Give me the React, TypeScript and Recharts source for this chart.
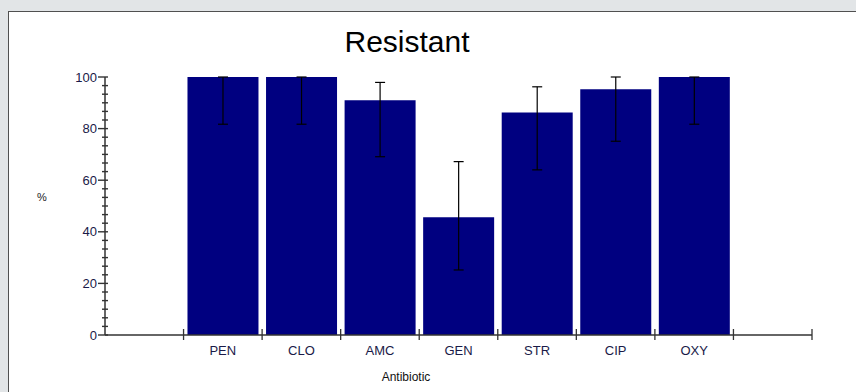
import React from 'react';
import { BarChart, Bar, XAxis, YAxis, ErrorBar } from 'recharts';

const antibiotics = ['PEN', 'CLO', 'AMC', 'GEN', 'STR', 'CIP', 'OXY'];
const resistantPct = [100, 100, 91, 45.6, 86.2, 95.3, 100];
const ciLower = [81.7, 81.7, 69.1, 25.2, 64, 75.1, 81.7];
const ciUpper = [100, 100, 97.9, 67.2, 96.2, 100, 100];
const majorTicks = [0, 20, 40, 60, 80, 100];
// five minor ticks between each pair of major ticks
const yTicks = Array.from({ length: 31 }, (_, i) => (i * 20) / 6);

const data = antibiotics.map((name, i) => ({
  name,
  value: resistantPct[i],
  err: [resistantPct[i] - ciLower[i], ciUpper[i] - resistantPct[i]],
}));

const W = 856;
const H = 392;
const PLOT_LEFT = 105;
const PLOT_RIGHT = 812;
const PLOT_TOP = 77;
const PLOT_BOTTOM = 335;
const BAND = (PLOT_RIGHT - PLOT_LEFT) / (antibiotics.length + 2);
const FONT = 'Arial, "Liberation Sans", sans-serif';
const AXIS = '#333';
const LABEL = '#1a1a48';

const YTick = (props: any) => {
  const { x, y, payload } = props;
  const v = Math.round(payload.value * 1000) / 1000;
  const major = majorTicks.includes(v);
  return (
    <g>
      <line x1={major ? x - 7 : x - 3} x2={x + 3} y1={y} y2={y} stroke={AXIS} strokeWidth={1.4} />
      {major && (
        <text x={x - 8} y={y} dy="0.36em" textAnchor="end" fontSize={13} fontFamily={FONT} fill={LABEL}>
          {v}
        </text>
      )}
    </g>
  );
};

const XTick = (props: any) => {
  const { x, y, payload, index } = props;
  const last = index === antibiotics.length - 1;
  const tick = (tx: number) => (
    <line x1={tx} x2={tx} y1={y - 6} y2={y + 5} stroke={AXIS} strokeWidth={1.3} />
  );
  return (
    <g>
      {tick(x - BAND / 2)}
      {last && tick(x + BAND / 2)}
      {last && tick(x + (3 * BAND) / 2)}
      <text x={x} y={y + 20} textAnchor="middle" fontSize={13} fontFamily={FONT} fill={LABEL}>
        {payload.value}
      </text>
    </g>
  );
};

export default function App() {
  return (
    <div style={{ position: 'absolute', left: 0, top: 0, width: W, height: H, background: '#e2e5e7', overflow: 'hidden' }}>
      <div
        style={{
          position: 'absolute',
          left: 8,
          top: 11,
          width: W,
          height: H,
          background: '#fff',
          border: '1px solid #505050',
        }}
      />
      <div style={{ position: 'absolute', left: 0, top: 0 }}>
        <BarChart
          width={W}
          height={H}
          data={data}
          margin={{ top: PLOT_TOP, right: W - PLOT_RIGHT, left: PLOT_LEFT - 60, bottom: H - PLOT_BOTTOM - 30 }}
          barCategoryGap="5%"
        >
          <XAxis
            dataKey="name"
            height={30}
            padding={{ left: BAND, right: BAND }}
            tickLine={false}
            tickSize={0}
            tickMargin={0}
            interval={0}
            tick={<XTick />}
            axisLine={{ stroke: AXIS, strokeWidth: 1.5 }}
          />
          <YAxis
            width={60}
            type="number"
            domain={[0, 100]}
            ticks={yTicks}
            interval={0}
            tickLine={false}
            tickSize={0}
            tickMargin={0}
            tick={<YTick />}
            axisLine={{ stroke: AXIS, strokeWidth: 1.5 }}
          />
          <Bar dataKey="value" fill="#000080" isAnimationActive={false}>
            <ErrorBar dataKey="err" width={5} stroke="#000" strokeWidth={1.2} direction="y" />
          </Bar>
        </BarChart>
      </div>
      <svg width={W} height={H} style={{ position: 'absolute', left: 0, top: 0, pointerEvents: 'none' }}>
        <text x={407} y={52} textAnchor="middle" fontSize={30} fontFamily={FONT} fill="#000">
          Resistant
        </text>
        <text x={42} y={201} textAnchor="middle" fontSize={11} fontFamily={FONT} fill="#222">
          %
        </text>
        <text x={406} y={381} textAnchor="middle" fontSize={12} fontFamily={FONT} fill="#111">
          Antibiotic
        </text>
      </svg>
    </div>
  );
}
